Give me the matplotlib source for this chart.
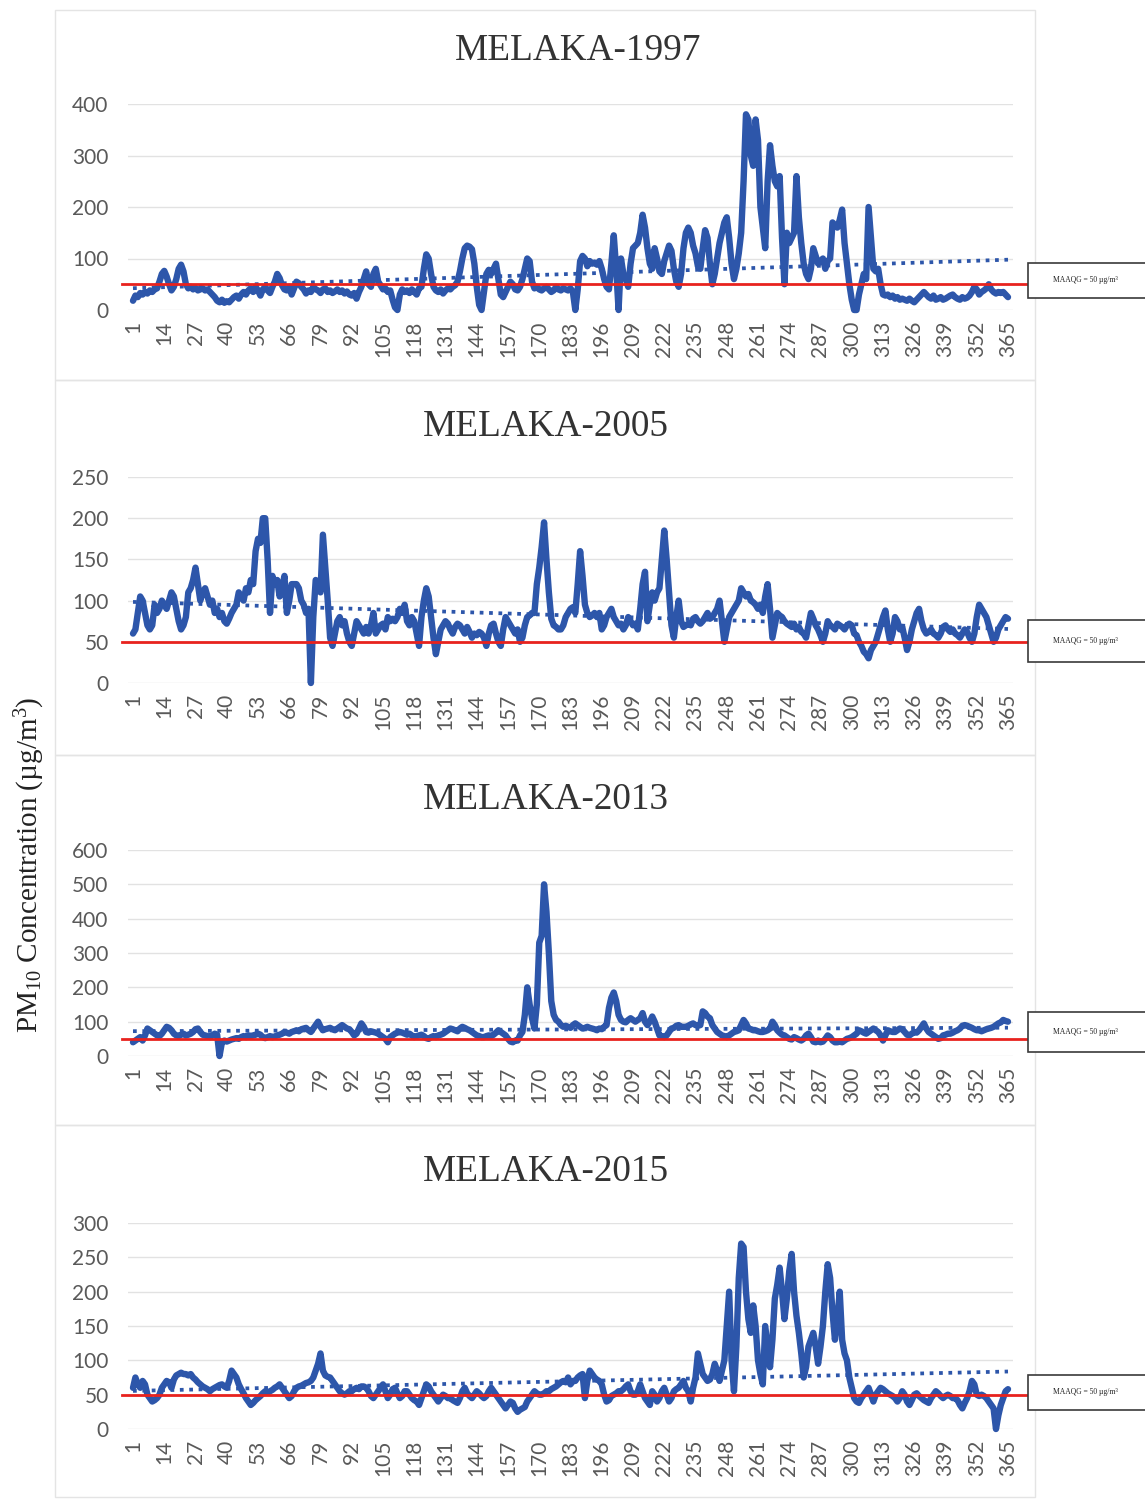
import numpy as np
import matplotlib
matplotlib.use("Agg")
import matplotlib.pyplot as plt
from matplotlib.patches import Rectangle
from matplotlib.transforms import blended_transform_factory

plt.rcParams["font.family"] = ["Lato", "DejaVu Sans"]
plt.rcParams["mathtext.fontset"] = "custom"
plt.rcParams["mathtext.rm"] = "Liberation Serif"
plt.rcParams["mathtext.it"] = "Liberation Serif:italic"

# ---------------------------------------------------------------- data
days = np.arange(1, 366)
tick_days = list(range(1, 366, 13))
maaqg = 50

pm10_1997 = [
    18, 28, 25, 33, 30, 35, 32, 38, 35, 40,
    42, 55, 70, 76, 65, 50, 38, 45, 60, 80,
    88, 75, 50, 42, 45, 40, 43, 38, 40, 42,
    38, 40, 35, 30, 25, 18, 15, 20, 14, 17,
    15, 20, 25, 28, 22, 30, 35, 30, 38, 42,
    35, 45, 38, 28, 40, 45, 38, 33, 45, 55,
    70, 62, 48, 40, 38, 45, 30, 42, 55, 52,
    45, 40, 32, 38, 35, 45, 40, 38, 33, 40,
    42, 35, 38, 33, 36, 40, 35, 38, 32, 36,
    30, 28, 33, 22, 35, 45, 60, 75, 50, 45,
    70, 80, 55, 48, 40, 42, 35, 38, 20, 5,
    0, 30, 40, 35, 38, 33, 40, 35, 30, 42,
    45, 80, 108, 100, 70, 45, 38, 35, 40, 32,
    38, 42, 40, 45, 48, 55, 75, 100, 120, 125,
    123, 118, 90, 45, 10, 0, 35, 70, 78, 70,
    80, 90, 60, 30, 25, 35, 45, 55, 50, 40,
    38, 45, 60, 80, 100, 95, 55, 42, 45, 40,
    38, 42, 45, 40, 35, 38, 45, 40, 38, 42,
    40, 38, 42, 35, 0, 40, 95, 105, 100, 85,
    95, 90, 92, 88, 95, 80, 60, 45, 40, 90,
    145, 80, 0, 100, 70, 60, 45, 90, 120, 125,
    130, 150, 185, 160, 120, 90, 80, 120, 100, 75,
    70, 95, 110, 125, 115, 80, 55, 45, 70, 120,
    150, 160, 150, 125, 110, 85, 80, 120, 155, 140,
    90, 50, 70, 100, 130, 150, 170, 180, 140, 90,
    60, 80, 110, 150, 250, 380, 370, 300, 280, 370,
    330, 200, 160, 120, 250, 320, 280, 250, 240, 260,
    140, 50, 150, 130, 140, 150, 260, 180, 130, 90,
    70, 60, 80, 120, 105, 90, 95, 100, 80, 95,
    100, 170, 165, 160, 175, 195, 130, 90, 50, 20,
    0, 0, 30, 50, 70, 60, 200, 140, 80, 75,
    80, 50, 30, 28, 30, 25, 28, 22, 25, 20,
    22, 20, 18, 22, 18, 15, 20, 25, 30, 35,
    30, 25, 22, 28, 20, 22, 25, 20, 22, 25,
    28, 30, 25, 22, 20, 25, 22, 24, 28, 35,
    45, 40, 30, 35, 38, 42, 50, 40, 35, 32,
    35, 33, 35, 30, 25,
]

pm10_2005 = [
    60, 65, 85, 105, 100, 85, 70, 65, 70, 95,
    85, 90, 100, 95, 90, 100, 110, 105, 90, 75,
    65, 70, 80, 110, 115, 125, 140, 120, 100, 110,
    115, 105, 95, 100, 85, 90, 80, 85, 75, 72,
    78, 85, 90, 95, 110, 105, 100, 115, 110, 125,
    120, 160, 175, 170, 200, 200, 150, 85, 130, 120,
    125, 105, 115, 130, 85, 100, 120, 120, 120, 115,
    100, 95, 85, 90, 0, 80, 125, 120, 110, 180,
    140, 100, 55, 45, 60, 75, 80, 70, 75, 60,
    50, 45, 60, 75, 70, 65, 60, 68, 60, 70,
    85, 60, 65, 70, 72, 65, 80, 75, 78, 75,
    80, 90, 85, 95, 75, 70, 80, 75, 60, 45,
    80, 100, 115, 105, 80, 55, 35, 50, 65, 70,
    75, 72, 65, 60, 68, 72, 70, 65, 60, 68,
    62, 55, 60, 58, 62, 60, 55, 45, 60, 70,
    72, 60, 50, 45, 65, 80, 75, 70, 65, 60,
    65, 50, 55, 70, 80, 82, 85, 85, 120, 140,
    165, 195, 150, 110, 78, 70, 68, 65, 65, 70,
    80, 85, 90, 92, 85, 120, 160, 130, 95, 85,
    80, 82, 85, 80, 85, 65, 70, 80, 85, 90,
    80, 75, 70, 72, 65, 70, 80, 75, 70, 72,
    65, 90, 120, 135, 75, 95, 110, 100, 110, 115,
    150, 185, 150, 110, 70, 55, 80, 100, 75, 68,
    70, 72, 70, 78, 80, 75, 72, 75, 80, 85,
    78, 80, 85, 90, 100, 75, 50, 65, 80, 85,
    90, 95, 100, 115, 110, 105, 108, 100, 98, 95,
    90, 95, 85, 105, 120, 90, 55, 70, 85, 82,
    80, 75, 72, 70, 68, 72, 65, 68, 62, 60,
    55, 70, 85, 78, 70, 65, 58, 50, 60, 75,
    70, 68, 65, 72, 70, 68, 65, 70, 72, 70,
    60, 58, 50, 45, 38, 35, 30, 40, 45, 50,
    60, 70, 80, 88, 65, 50, 60, 80, 75, 65,
    68, 55, 40, 50, 65, 75, 85, 90, 75, 65,
    60, 62, 65, 60, 58, 55, 60, 68, 70, 65,
    62, 65, 60, 58, 55, 60, 65, 62, 55, 50,
    60, 80, 95, 90, 85, 80, 70, 60, 50, 55,
    65, 70, 75, 80, 78,
]

pm10_2013 = [
    40, 45, 50, 55, 45, 60, 80, 75, 70, 65,
    60, 58, 65, 75, 85, 82, 75, 65, 60, 58,
    62, 65, 60, 62, 65, 70, 78, 80, 70, 62,
    60, 58, 55, 60, 65, 62, 0, 40, 45, 42,
    45, 48, 50, 52, 50, 55, 58, 55, 60, 58,
    60, 62, 65, 62, 55, 52, 55, 58, 55, 57,
    60, 62, 65, 70, 68, 65, 70, 72, 75, 72,
    78, 80, 82, 75, 70, 80, 90, 100, 85, 75,
    78, 80, 82, 78, 75, 80, 85, 90, 85, 80,
    78, 70, 60, 65, 80, 95, 85, 70, 68, 72,
    70, 68, 65, 60, 55, 50, 40, 55, 60, 65,
    68, 70, 68, 65, 62, 65, 60, 55, 58, 60,
    62, 58, 52, 50, 55, 58, 55, 60, 62, 65,
    70, 75, 80, 78, 75, 72, 80, 85, 82, 78,
    75, 70, 65, 60, 58, 55, 55, 58, 60, 58,
    62, 68, 75, 70, 65, 60, 50, 42, 40, 45,
    45, 60, 70, 120, 200, 150, 110, 80, 150, 330,
    350, 500, 420, 300, 160, 120, 105, 100, 90, 85,
    88, 85, 82, 90, 95, 90, 85, 80, 82, 85,
    82, 80, 78, 75, 80, 78, 85, 90, 140, 170,
    185, 160, 120, 105, 100, 98, 105, 110, 105, 100,
    105, 110, 125, 100, 90, 100, 115, 100, 80, 60,
    58, 55, 60, 70, 80, 82, 88, 90, 85, 85,
    85, 88, 92, 95, 90, 88, 90, 130, 125, 115,
    110, 90, 80, 70, 65, 60, 58, 55, 60, 65,
    70, 72, 75, 90, 105, 95, 80, 78, 75, 75,
    72, 70, 70, 72, 75, 80, 100, 90, 75, 68,
    62, 60, 55, 50, 48, 55, 52, 48, 45, 50,
    60, 65, 55, 42, 40, 45, 40, 42, 50, 60,
    55, 45, 40, 40, 42, 40, 45, 50, 52, 55,
    60, 65, 75, 72, 68, 65, 70, 75, 80, 75,
    70, 60, 45, 60, 75, 72, 70, 70, 75, 80,
    78, 70, 62, 60, 65, 70, 68, 75, 85, 95,
    80, 70, 65, 60, 55, 50, 52, 60, 62, 65,
    65, 68, 72, 75, 80, 88, 90, 88, 85, 82,
    78, 75, 75, 72, 75, 78, 80, 82, 85, 90,
    95, 98, 105, 102, 100,
]

pm10_2015 = [
    60, 75, 65, 60, 70, 65, 50, 45, 40, 42,
    45, 50, 60, 65, 70, 68, 60, 72, 78, 80,
    82, 80, 80, 78, 80, 75, 72, 68, 65, 62,
    60, 58, 55, 58, 60, 62, 64, 65, 62, 60,
    70, 85, 80, 75, 65, 58, 52, 45, 40, 35,
    38, 42, 45, 48, 52, 55, 53, 55, 57, 60,
    62, 65, 60, 55, 50, 45, 48, 55, 60, 62,
    63, 65, 67, 68, 70, 75, 85, 95, 110, 85,
    78, 76, 75, 70, 65, 60, 55, 52, 50, 52,
    55, 55, 58, 60, 58, 62, 62, 60, 55, 48,
    45, 50, 55, 60, 65, 55, 45, 50, 58, 60,
    52, 45, 48, 55, 55, 50, 45, 42, 40, 35,
    45, 55, 65, 62, 55, 50, 45, 40, 45, 50,
    48, 45, 45, 42, 40, 38, 45, 55, 60, 52,
    48, 45, 50, 55, 52, 48, 45, 48, 55, 60,
    55, 50, 45, 40, 35, 30, 35, 40, 38, 30,
    25, 28, 30, 32, 40, 45, 50, 55, 52, 50,
    50, 52, 55, 55, 58, 60, 62, 65, 68, 70,
    68, 75, 65, 70, 70, 75, 78, 80, 45, 70,
    85, 80, 75, 72, 70, 65, 50, 40, 42, 48,
    50, 52, 55, 55, 58, 62, 65, 55, 50, 50,
    55, 65, 55, 45, 40, 35, 55, 50, 40, 45,
    55, 60, 50, 40, 45, 55, 58, 60, 65, 70,
    60, 55, 40, 60, 75, 110, 95, 80, 75, 70,
    72, 80, 95, 85, 70, 85, 100, 150, 200, 100,
    55, 120, 220, 270, 265, 200, 160, 140, 180, 150,
    100, 80, 65, 150, 120, 90, 130, 190, 210, 235,
    200, 160, 190, 230, 255, 200, 165, 140, 110, 75,
    90, 120, 130, 140, 120, 95, 120, 150, 200, 240,
    220, 170, 130, 160, 200, 130, 110, 100, 75, 60,
    45, 40, 38, 45, 50, 55, 60, 50, 40, 50,
    55, 60, 58, 55, 52, 50, 48, 45, 40, 45,
    55, 50, 40, 35, 42, 50, 52, 48, 45, 42,
    40, 38, 45, 50, 55, 52, 48, 45, 48, 50,
    48, 45, 45, 42, 35, 30, 38, 45, 55, 70,
    65, 50, 48, 50, 48, 45, 40, 35, 30, 0,
    20, 35, 45, 55, 58,
]

years = ["1997", "2005", "2013", "2015"]
series = [pm10_1997, pm10_2005, pm10_2013, pm10_2015]
y_ticks = [
    [0, 100, 200, 300, 400],
    [0, 50, 100, 150, 200, 250],
    [0, 100, 200, 300, 400, 500, 600],
    [0, 50, 100, 150, 200, 250, 300],
]

# ---------------------------------------------------------------- layout (pixels)
W, H = 1145, 1499
BLUE = "#2d56aa"
RED = "#e8221e"
TICK_GREY = "#595959"

ax_left, ax_width, ax_height = 128, 885, 206
ax_bottoms = [310, 683, 1056, 1429]
title_centers = [(578, 51), (546, 427), (546, 800), (546, 1172)]
frames = [(10, 380), (380, 755), (755, 1125), (1125, 1497)]
boxes = [(263, 298), (620, 662), (1012, 1052), (1375, 1410)]
box_left = 1028

fig = plt.figure(figsize=(W / 100, H / 100), dpi=100)
fig.patch.set_facecolor("white")

for (top, bottom) in frames:
    fig.patches.append(Rectangle((55 / W, 1 - bottom / H), 980 / W, (bottom - top) / H,
                                 transform=fig.transFigure, fill=False,
                                 ec="#e4e4e4", lw=1.0))

for i, (year, vals, yt) in enumerate(zip(years, series, y_ticks)):
    vals = np.asarray(vals, dtype=float)
    assert len(vals) == len(days)
    ax = fig.add_axes([ax_left / W, 1 - ax_bottoms[i] / H, ax_width / W, ax_height / H])

    ax.plot(days, vals, color=BLUE, lw=4.6, solid_joinstyle="round",
            solid_capstyle="round", clip_on=False, zorder=3)

    coef = np.polyfit(days, vals, 1)
    ax.plot(days, np.polyval(coef, days), color=BLUE, lw=2.7,
            ls=(0, (1.0, 1.5)), zorder=2)

    trans = blended_transform_factory(ax.transAxes, ax.transData)
    ax.plot([-0.007, (box_left - ax_left) / ax_width], [maaqg, maaqg],
            transform=trans, color=RED, lw=2.0, clip_on=False, zorder=4)

    ax.set_xlim(1 - 5 / 2.4038, 365 + 5 / 2.4038)
    ax.set_ylim(yt[0], yt[-1])
    ax.set_yticks(yt)
    ax.set_xticks(tick_days)
    ax.set_xticklabels([str(d) for d in tick_days], rotation=90)
    ax.tick_params(axis="both", length=0, labelsize=15, labelcolor=TICK_GREY)
    ax.tick_params(axis="y", pad=14)
    ax.tick_params(axis="x", pad=8)
    ax.grid(axis="y", color="#e2e2e2", lw=1.0)
    ax.set_axisbelow(True)
    for s in ax.spines.values():
        s.set_visible(False)
    ax.patch.set_alpha(0)

    cx, cy = title_centers[i]
    fig.text(cx / W, 1 - cy / H, f"MELAKA-{year}", ha="center", va="center",
             family="Liberation Serif", fontsize=26.8, color="#333333")

    bt, bb = boxes[i]
    fig.patches.append(Rectangle((box_left / W, 1 - bb / H), 130 / W, (bb - bt) / H,
                                 transform=fig.transFigure, facecolor="white",
                                 ec="#3a3a3a", lw=1.2, zorder=5))
    fig.text(1085 / W, 1 - (bt + bb) / 2 / H, "MAAQG = 50 µg/m³", ha="center",
             va="center", family="Liberation Serif", fontsize=5.5,
             color="#222222", zorder=6)

fig.text(30 / W, 1 - 865 / H, "PM$_{10}$ Concentration (µg/m$^{3}$)",
         rotation=90, ha="center", va="center", family="Liberation Serif",
         fontsize=21, color="#222222")

fig.savefig("out.png", dpi=100)
